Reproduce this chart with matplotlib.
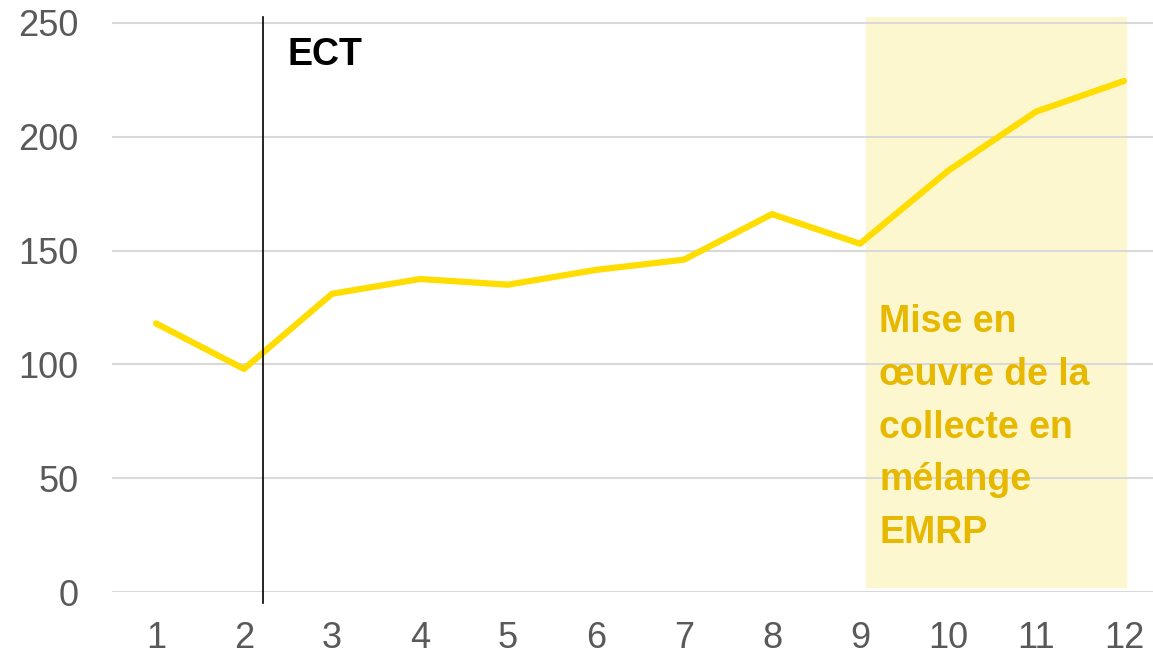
import matplotlib.pyplot as plt

plt.rcParams['font.family'] = ['Liberation Sans', 'DejaVu Sans']

x = [1, 2, 3, 4, 5, 6, 7, 8, 9, 10, 11, 12]
values = [118, 98, 131, 137.5, 135, 141.5, 146, 166, 153, 185, 211, 224.5]
yticks = [0, 50, 100, 150, 200, 250]
ect_x = 2.22
zone = (9.07, 12.02)
zone_label = "Mise en\nœuvre de la\ncollecte en\nmélange\nEMRP"

fig = plt.figure(figsize=(11.53, 6.56), dpi=100)
ax = fig.add_axes([112 / 1153, 64 / 656, 1 - 112 / 1153, 575 / 656])

# shaded period + gridlines on top of it
ax.axvspan(zone[0], zone[1], ymin=2 / 252.6, ymax=1, color='#fdf7d0', zorder=0)
for t in yticks:
    ax.axhline(t, color='#d9d9d9', lw=1.5, zorder=1)
ax.plot(x, values, color='#ffdd00', lw=4.5, solid_capstyle='round', zorder=3)
ax.plot([ect_x, ect_x], [-5, 252.6], color='black', lw=1.2, clip_on=False, zorder=4)

ax.text(2.5, 236, 'ECT', fontsize=27, fontweight='bold', color='black', va='center')
ax.text(9.22, 126.5, zone_label, fontsize=27, fontweight='bold', color='#e6b800',
        va='top', ha='left', linespacing=1.6)

ax.set_xlim(0.5, 12.33)
ax.set_ylim(0, 252.6)
ax.set_xticks(x)
ax.set_yticks(yticks)
ax.tick_params(length=0, labelsize=26, labelcolor='#595959')
ax.tick_params(axis='x', pad=21)
ax.tick_params(axis='y', pad=24)
for s in ax.spines.values():
    s.set_visible(False)

fig.savefig('out.png', dpi=100)
